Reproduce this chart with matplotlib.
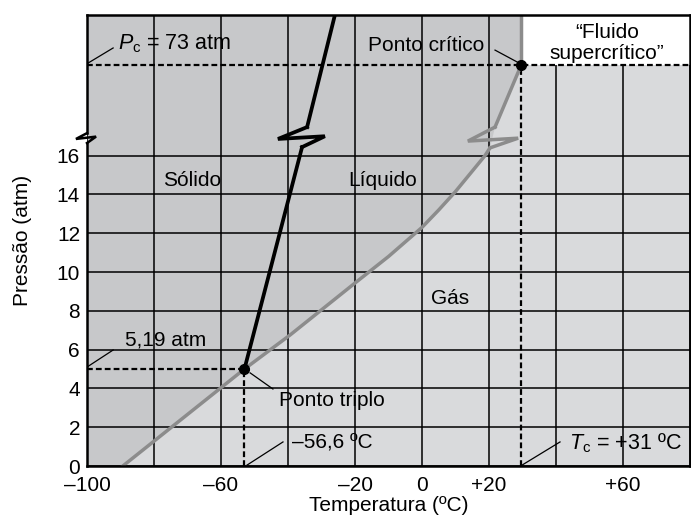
import numpy as np
import matplotlib.pyplot as plt

plt.rcParams['font.family'] = ['Liberation Sans', 'DejaVu Sans']
plt.rcParams['mathtext.fontset'] = 'custom'
plt.rcParams['mathtext.rm'] = 'Liberation Sans'
plt.rcParams['mathtext.it'] = 'Liberation Sans:italic'

# eixo de pressão quebrado: até 16 atm escala linear, acima dela comprimida
P_QUEBRA = 17.0
Y_QUEBRA = 17.0
K_ACIMA = 0.0655
Y_TOPO = 23.25


def eixo(p):
    p = np.asarray(p, dtype=float)
    return np.where(p <= 16.6, p, Y_QUEBRA + (p - P_QUEBRA) * K_ACIMA)


# pontos característicos (posições)
T_triplo, P_triplo = -53.0, 5.0
T_crit, P_crit = 29.6, 73.0

# curva sólido/gás + líquido/gás (cinza), parte abaixo da quebra
gas_T_baixo = [-89.3, T_triplo, -39.4, -30.0, -20.6, -10.0, 0.0, 5.0, 10.0, 15.0, 18.8, 20.3]
gas_P_baixo = [0.0, P_triplo, 6.75, 8.05, 9.35, 10.8, 12.3, 13.2, 14.15, 15.2, 16.0, 16.4]
# parte acima da quebra
gas_T_alto = [21.8, T_crit]
gas_P_alto = [24.2, P_crit]
# fronteira vertical do fluido supercrítico
sc_T = [T_crit, T_crit]
sc_P = [P_crit, 112.4]

# curva de fusão (preta)
fus_T_baixo = [T_triplo, -35.8]
fus_P_baixo = [P_triplo, 16.44]
fus_T_alto = [-34.3, -26.0]
fus_P_alto = [24.2, 112.4]

x_grade = [-100, -80, -60, -40, -20, 0, 20, 40, 60, 80]
x_rotulos = ['\u2013100', '', '\u201360', '', '\u201320', '0', '+20', '', '+60', '']
y_grade = [0, 2, 4, 6, 8, 10, 12, 14, 16]

cinza_escuro = '#c7c8ca'
cinza_claro = '#d9dadc'
cinza_linha = '#8c8c8c'

fig = plt.figure(figsize=(6.91, 5.22), dpi=100)
ax = fig.add_axes([87 / 691, 56 / 522, 603 / 691, 451 / 522])
ax.set_xlim(-100, 80)
ax.set_ylim(0, Y_TOPO)
ax.set_facecolor(cinza_claro)

# região sólido + líquido
poly_T = [-100] + gas_T_baixo + gas_T_alto + [T_crit, -100]
poly_Y = [0] + list(eixo(gas_P_baixo)) + list(eixo(gas_P_alto)) + [Y_TOPO, Y_TOPO]
ax.fill(poly_T, poly_Y, color=cinza_escuro, lw=0, zorder=0)

# grade
for xv in x_grade:
    ax.axvline(xv, color='black', lw=1.1, zorder=1)
ax.hlines(y_grade, -100, 80, color='black', lw=1.1, zorder=1)

# região do fluido supercrítico
ax.fill_between([T_crit, 80], eixo(P_crit), Y_TOPO, color='white', lw=0, zorder=1.5)

# linhas tracejadas
tr = dict(color='black', lw=1.6, ls=(0, (2.6, 1.4)), zorder=2)
y_pc = float(eixo(P_crit))
ax.plot([-100, 80], [y_pc, y_pc], **tr)
ax.plot([T_crit, T_crit], [0, y_pc], **tr)
ax.plot([-100, T_triplo], [P_triplo, P_triplo], **tr)
ax.plot([T_triplo, T_triplo], [0, P_triplo], **tr)


def quebra(x0, y0, dd, de, topo, **kw):
    # símbolo de quebra em zigue-zague
    xs = [x0, x0 + dd[0], x0 + de[0], x0 + topo[0]]
    ys = [y0, y0 + dd[1], y0 + de[1], y0 + topo[1]]
    ax.plot(xs, ys, solid_joinstyle='miter', **kw)


cz = dict(color=cinza_linha, lw=2.5, zorder=3, solid_joinstyle='round')
ax.plot(gas_T_baixo, eixo(gas_P_baixo), **cz)
ax.plot(gas_T_alto, eixo(gas_P_alto), **cz)
ax.plot(sc_T, eixo(sc_P), **cz)
cz.pop('solid_joinstyle')
quebra(gas_T_baixo[-1], gas_P_baixo[-1], (8.4, 0.5), (-6.6, 0.35),
       (gas_T_alto[0] - gas_T_baixo[-1], float(eixo(gas_P_alto[0])) - gas_P_baixo[-1]), **cz)

pt = dict(color='black', lw=2.7, zorder=3.5)
ax.plot(fus_T_baixo, eixo(fus_P_baixo), **pt)
ax.plot(fus_T_alto, eixo(fus_P_alto), **pt)
quebra(fus_T_baixo[-1], fus_P_baixo[-1], (6.8, 0.56), (-7.2, 0.42),
       (fus_T_alto[0] - fus_T_baixo[-1], float(eixo(fus_P_alto[0])) - fus_P_baixo[-1]), **pt)

# pontos triplo e crítico
ax.plot([T_triplo, T_crit], [P_triplo, y_pc], 'o', color='black', ms=7, zorder=4)

# eixo esquerdo com quebra
esp = dict(color='black', lw=1.8, clip_on=False, zorder=5)
ax.plot([-100, -100], [0, 16.65], **esp)
ax.plot([-100, -100], [17.16, Y_TOPO], **esp)
quebra(-100, 16.65, (2.7, 0.33), (-3.3, 0.21), (0, 0.51), **esp)
ax.spines['left'].set_visible(False)
for s in ['bottom', 'top', 'right']:
    ax.spines[s].set_linewidth(1.8)
    ax.spines[s].set_zorder(5)

ax.set_xticks(x_grade)
ax.set_xticklabels(x_rotulos)
ax.set_yticks(y_grade)
ax.tick_params(length=0, labelsize=15)
ax.tick_params(axis='y', pad=5)
ax.tick_params(axis='x', pad=7)
ax.set_xlabel('Temperatura (ºC)', fontsize=15, labelpad=1)
ax.set_ylabel('Pressão (atm)', fontsize=15, labelpad=18)

# textos e chamadas
fs = 15
ld = dict(color='black', lw=0.9, zorder=4)
ax.text(-68.7, 14.74, 'Sólido', fontsize=fs, ha='center', va='center', zorder=6)
ax.text(-11.9, 14.74, 'Líquido', fontsize=fs, ha='center', va='center', zorder=6)
ax.text(8.4, 8.66, 'Gás', fontsize=fs, ha='center', va='center', zorder=6)
ax.text(55.2, 21.8, '\u201cFluido\nsupercrítico\u201d', fontsize=fs, ha='center', va='center',
        linespacing=1.1, zorder=6)

ax.plot([-99.7, -92.2], [20.77, 21.55], **ld)
ax.text(-90.6, 21.78, r'$P_{\mathrm{c}}$ = 73 atm', fontsize=15.5, ha='left', va='center', zorder=6)

ax.plot([-100, -92.2], [5.1, 5.98], **ld)
ax.text(-88.7, 6.5, '5,19 atm', fontsize=fs, ha='left', va='center', zorder=6)

ax.plot([-51.3, -44.5], [4.8, 3.97], **ld)
ax.text(-42.6, 3.4, 'Ponto triplo', fontsize=fs, ha='left', va='center', zorder=6)

ax.plot([-52.2, -41.5], [0.05, 1.24], **ld)
ax.text(-38.8, 1.19, '\u201356,6 ºC', fontsize=fs, ha='left', va='center', zorder=6)

ax.plot([29.9, 41.2], [0.05, 1.24], **ld)
ax.text(44.0, 1.19, r'$T_{\mathrm{c}}$ = +31 ºC', fontsize=15.5, ha='left', va='center', zorder=6)

ax.plot([21.8, 28.7], [21.44, 20.8], **ld)
ax.text(1.2, 21.7, 'Ponto crítico', fontsize=fs, ha='center', va='center', zorder=6)

fig.savefig('out.png', dpi=100)
